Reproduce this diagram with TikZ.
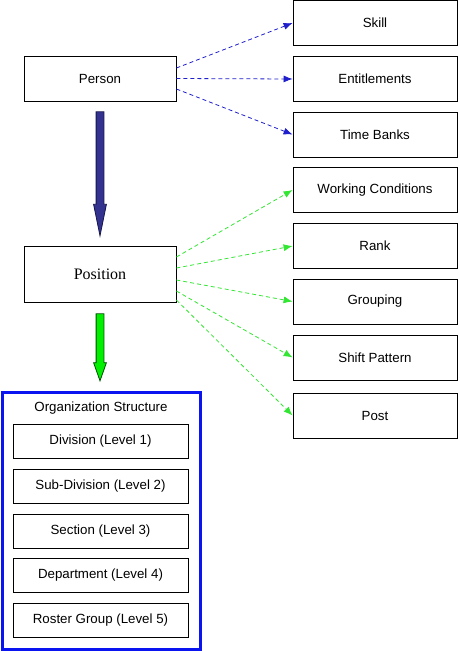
\documentclass[tikz,border=0pt]{standalone}
\usepackage{fontspec}
\setmainfont{Liberation Sans}
\newfontfamily\serifpos{Liberation Serif}
\usetikzlibrary{arrows.meta,shapes.arrows,calc}
\definecolor{linkblue}{HTML}{1F1FCC}
\definecolor{linkgreen}{HTML}{33E633}
\definecolor{shaftblue}{HTML}{33338F}
\definecolor{edgeblue}{HTML}{14144D}
\definecolor{shaftgreen}{HTML}{00F000}
\definecolor{framblue}{HTML}{0A14F0}

\begin{document}
\begin{tikzpicture}[x=1pt,y=-1pt,
  every node/.style={font=\fontsize{13.3}{15}\selectfont},
  box/.style={draw,line width=0.8pt,inner sep=0pt,minimum width=164pt,minimum height=45pt},
  leftbox/.style={box,minimum width=152pt},
  levelbox/.style={box,minimum width=175pt,minimum height=34pt},
  bluelink/.style={draw=linkblue,line width=0.8pt,dash pattern=on 4pt off 3pt,-{Latex[length=9pt,width=7pt]}},
  greenlink/.style={bluelink,draw=linkgreen},
  bigarrow/.style={single arrow,shape border rotate=270,anchor=tail,inner sep=3.5pt,minimum width=12pt,
    single arrow head extend=2.5pt,line width=0.8pt}]
  \useasboundingbox (0,0) rectangle (459,651);

  \node (person) [leftbox] at (100,78.5) {Person};
  \node (position) [leftbox,minimum height=56pt,font=\fontsize{16}{18}\serifpos] at (100,274) {Position};

  \node (skill) [box] at (375,23) {Skill};
  \node (entitle) [box] at (375,79) {Entitlements};
  \node (timebank) [box] at (375,134.5) {Time Banks};
  \node (workcond) [box] at (375,190) {Working Conditions};
  \node (rank) [box] at (375,246) {Rank};
  \node (grouping) [box] at (375,301.5) {Grouping};
  \node (shift) [box] at (375,357.5) {Shift Pattern};
  \node (post) [box] at (375,415.5) {Post};

  \node (orgframe) [draw=framblue,line width=3pt,minimum width=198pt,minimum height=257pt] at (101,520.5) {};
  \node (orgtitle) at (101,408) {Organization Structure};
  \node (level1) [levelbox] at (100.5,441.5) {Division (Level 1)};
  \node (level2) [levelbox] at (100.5,486) {Sub-Division (Level 2)};
  \node (level3) [levelbox] at (100.5,531) {Section (Level 3)};
  \node (level4) [levelbox] at (100.5,575.5) {Department (Level 4)};
  \node (level5) [levelbox] at (100.5,620) {Roster Group (Level 5)};

  \node (toposition) [bigarrow,fill=shaftblue,draw=edgeblue,minimum height=124pt,single arrow tip angle=23]
    at ([yshift=-10pt]person.south) {};
  \node (toorg) [bigarrow,fill=shaftgreen,draw=black!70!green,minimum height=67pt,single arrow tip angle=39]
    at ([yshift=-11pt]position.south) {};

  \foreach \dy/\target in {10.5/skill,0/entitle,-10.5/timebank}
    \draw[bluelink] ([yshift=\dy pt]person.east) -- (\target.west);
  \foreach \dy/\target in {17/workcond,6/rank,-6/grouping,-17/shift,-26/post}
    \draw[greenlink] ([yshift=\dy pt]position.east) -- (\target.west);
\end{tikzpicture}
\end{document}
